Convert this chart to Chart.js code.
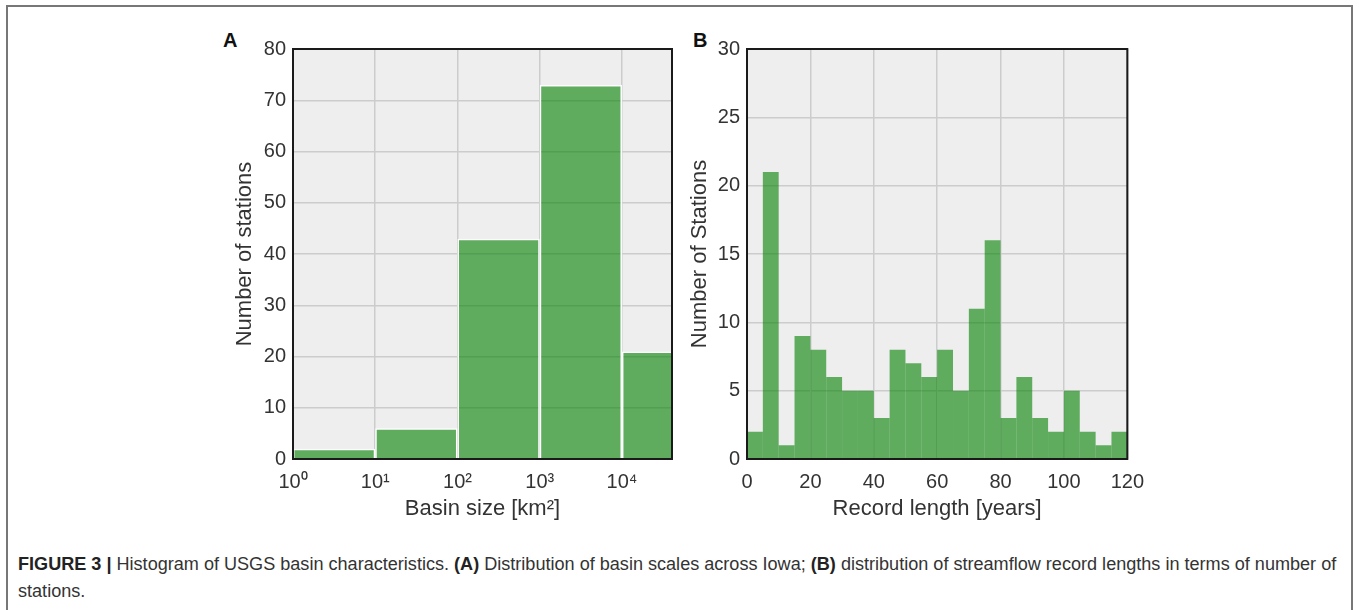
<!DOCTYPE html>
<html lang="en">
<head>
<meta charset="UTF-8">
<title>Figure 3</title>
<script src="https://cdn.jsdelivr.net/npm/chart.js@4.4.1/dist/chart.umd.min.js"></script>
<style>
    body { margin: 0; background: #fff; width: 1359px; height: 610px; overflow: hidden; position: relative;
           font-family: "Liberation Sans", Arial, sans-serif; }
    #frame { position: absolute; left: 6px; top: 5px; width: 1347px; height: 640px;
             border: 2px solid #777; border-bottom: none; box-sizing: border-box; }
    .panel { position: absolute; top: 30px; height: 500px; }
    #boxA { left: 200px; width: 480px; }
    #boxB { left: 680px; width: 475px; }
    .tag { position: absolute; top: 30px; font-weight: bold; font-size: 20px; line-height: 20px; color: #111; }
    #caption { position: absolute; left: 18px; top: 551px; font-size: 15px; line-height: 27px; color: #333; }
    #caption span { white-space: nowrap; }
    #caption b { color: #222; }
</style>
</head>
<body>
    <div id="frame"></div>
    <div class="tag" style="left:223px">A</div>
    <div class="tag" style="left:693px">B</div>
    <div class="panel" id="boxA"><canvas id="chartA"></canvas></div>
    <div class="panel" id="boxB"><canvas id="chartB"></canvas></div>
    <div id="caption">
        <span id="capLine1"><b>FIGURE 3 |</b> Histogram of USGS basin characteristics. <b>(A)</b> Distribution of basin scales across Iowa; <b>(B)</b> distribution of streamflow record lengths in terms of number of</span><br>
        <span>stations.</span>
    </div>

<script>
// panel A: basin size, one bin per decade (exponent of the lower edge)
var basinBinExp = [0, 1, 2, 3, 4];
var basinCounts = [2, 6, 43, 73, 21];
var basinTicks = [1, 10, 100, 1000, 10000];
var basinMax = 40600;

// panel B: record length, 5-year bins (lower edge)
var recordBinStart = [0, 5, 10, 15, 20, 25, 30, 35, 40, 45, 50, 55, 60, 65, 70, 75, 80, 85, 90, 95, 100, 105, 110, 115];
var recordCounts = [2, 21, 1, 9, 8, 6, 5, 5, 3, 8, 7, 6, 8, 5, 11, 16, 3, 6, 3, 2, 5, 2, 1, 2];

var barColor = "rgba(0, 128, 0, 0.6)";
var gridColor = "#cccccc";
var textColor = "#333333";
var supDigits = ["\u2070", "\u00b9", "\u00b2", "\u00b3", "\u2074", "\u2075"];

// grey plot background + black frame round the plot area
var plotFrame = {
    id: "plotFrame",
    beforeDraw: function(chart) {
        var a = chart.chartArea, ctx = chart.ctx;
        ctx.save();
        ctx.fillStyle = "#eeeeee";
        ctx.fillRect(a.left, a.top, a.right - a.left, a.bottom - a.top);
        ctx.restore();
    },
    afterDraw: function(chart) {
        var a = chart.chartArea, ctx = chart.ctx;
        ctx.save();
        ctx.strokeStyle = "#1a1a1a";
        ctx.lineWidth = 2;
        ctx.strokeRect(a.left, a.top, a.right - a.left, a.bottom - a.top);
        ctx.restore();
    }
};

Chart.defaults.font.family = '"Liberation Sans", Arial, sans-serif';
Chart.defaults.color = textColor;

function axisTitle(text, pad) {
    return { display: true, text: text, color: textColor, font: { size: 22 }, padding: pad };
}

new Chart(document.getElementById("chartA"), {
    type: "bar",
    data: {
        datasets: [{
            data: basinBinExp.map(function(e, i) { return { x: Math.pow(10, e + 0.5), y: basinCounts[i] }; }),
            backgroundColor: barColor,
            borderColor: "#ffffff",
            borderWidth: 1.5,
            inflateAmount: 0,
            barPercentage: 1,
            categoryPercentage: 1
        }]
    },
    options: {
        responsive: true,
        maintainAspectRatio: false,
        animation: false,
        layout: { padding: { left: 0, top: 16, right: 8, bottom: 0 } },
        plugins: { legend: { display: false }, tooltip: { enabled: false } },
        scales: {
            x: {
                type: "logarithmic",
                min: 1,
                max: basinMax,
                offset: false,
                afterBuildTicks: function(axis) {
                    axis.ticks = basinTicks.map(function(v) { return { value: v }; });
                },
                afterFit: function(axis) { axis.height = 71; },
                grid: { color: gridColor, lineWidth: 1.5, drawTicks: false, offset: false },
                border: { display: false },
                ticks: {
                    autoSkip: false, maxRotation: 0, padding: 11,
                    font: { size: 20 },
                    callback: function(v) { return "10" + supDigits[Math.round(Math.log10(v))]; }
                },
                title: axisTitle("Basin size [km\u00b2]", { top: 0, bottom: 8 })
            },
            y: {
                min: 0,
                max: 80,
                afterFit: function(axis) { axis.width = 93; },
                grid: { color: gridColor, lineWidth: 1.5, drawTicks: false },
                border: { display: false },
                ticks: { stepSize: 10, padding: 7, font: { size: 20 } },
                title: axisTitle("Number of stations", { top: 32, bottom: 0 })
            }
        }
    },
    plugins: [plotFrame]
});

new Chart(document.getElementById("chartB"), {
    type: "bar",
    data: {
        datasets: [{
            data: recordBinStart.map(function(s, i) { return { x: s + 2.5, y: recordCounts[i] }; }),
            backgroundColor: barColor,
            borderWidth: 0,
            inflateAmount: 0,
            barPercentage: 1,
            categoryPercentage: 1
        }]
    },
    options: {
        responsive: true,
        maintainAspectRatio: false,
        animation: false,
        // the "120" tick label already reserves the right-hand margin
        layout: { padding: { left: 0, top: 16, right: 0, bottom: 0 } },
        plugins: { legend: { display: false }, tooltip: { enabled: false } },
        scales: {
            x: {
                type: "linear",
                min: 0,
                max: 120,
                offset: false,
                afterFit: function(axis) { axis.height = 71; },
                grid: { color: gridColor, lineWidth: 1.5, drawTicks: false, offset: false },
                border: { display: false },
                ticks: { stepSize: 20, padding: 11, maxRotation: 0, font: { size: 20 } },
                title: axisTitle("Record length [years]", { top: 0, bottom: 8 })
            },
            y: {
                min: 0,
                max: 30,
                afterFit: function(axis) { axis.width = 67; },
                grid: { color: gridColor, lineWidth: 1.5, drawTicks: false },
                border: { display: false },
                ticks: { stepSize: 5, padding: 7, font: { size: 20 } },
                title: axisTitle("Number of Stations", { top: 7, bottom: 0 })
            }
        }
    },
    plugins: [plotFrame]
});

// stretch the caption so its first line ends where the original one does
var capLine = document.getElementById("capLine1");
var capSize = 15 * 1319 / capLine.getBoundingClientRect().width;
document.getElementById("caption").style.fontSize = capSize.toFixed(2) + "px";
</script>
</body>
</html>
